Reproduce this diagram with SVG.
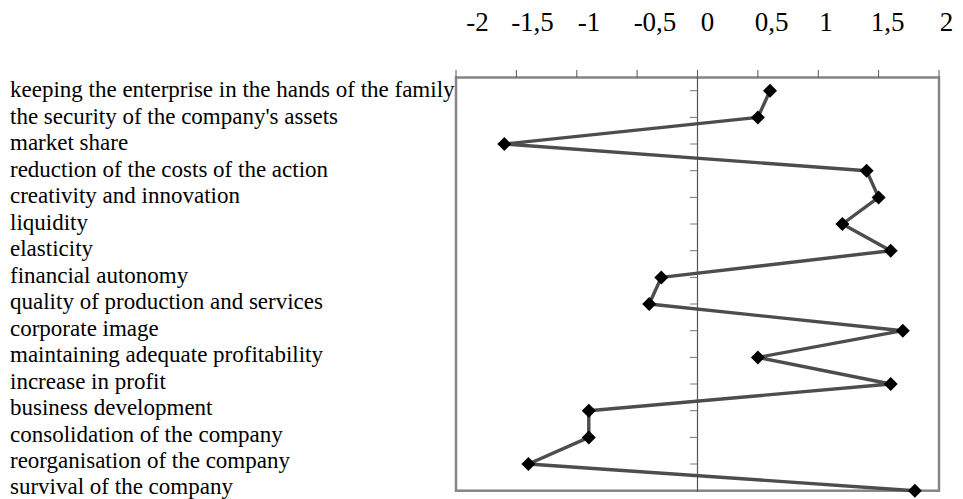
<svg xmlns="http://www.w3.org/2000/svg" width="963" height="499" viewBox="0 0 963 499">
  <style>
    .lbl { font-family: "Liberation Serif", "Times New Roman", serif; font-size: 23px; fill: #000; }
    .num { font-family: "Liberation Serif", "Times New Roman", serif; font-size: 27px; fill: #000; text-anchor: middle; }
    .frame { fill: none; stroke: #858585; stroke-width: 2.5; }
    .tick { stroke: #555; stroke-width: 1; }
    .ytick { stroke: #777; stroke-width: 1; }
    .axis { stroke: #555; stroke-width: 1.2; }
    .series { fill: none; stroke: #4d4d4d; stroke-width: 3.4; stroke-linejoin: round; }
  </style>
  <defs>
    <path id="diamond" d="M0,-7 L7,0 L0,7 L-7,0 Z" fill="#000"/>
  </defs>
  <rect width="963" height="499" fill="#fff"/>

  <!-- value scale across the top -->
  <g id="scale">
    <text class="num" x="477.5" y="31">-2</text>
    <text class="num" x="532.5" y="31">-1,5</text>
    <text class="num" x="589" y="31">-1</text>
    <text class="num" x="655" y="31">-0,5</text>
    <text class="num" x="707.5" y="31">0</text>
    <text class="num" x="771.5" y="31">0,5</text>
    <text class="num" x="826" y="31">1</text>
    <text class="num" x="887.5" y="31">1,5</text>
    <text class="num" x="946.5" y="31">2</text>
  </g>

  <!-- category labels -->
  <g id="labels">
    <text class="lbl" x="10" y="97">keeping the enterprise in the hands of the family</text>
    <text class="lbl" x="10" y="123.5">the security of the company's assets</text>
    <text class="lbl" x="10" y="150">market share</text>
    <text class="lbl" x="10" y="176.5">reduction of the costs of the action</text>
    <text class="lbl" x="10" y="203">creativity and innovation</text>
    <text class="lbl" x="10" y="229.5">liquidity</text>
    <text class="lbl" x="10" y="256">elasticity</text>
    <text class="lbl" x="10" y="282.5">financial autonomy</text>
    <text class="lbl" x="10" y="309">quality of production and services</text>
    <text class="lbl" x="10" y="335.5">corporate image</text>
    <text class="lbl" x="10" y="362">maintaining adequate profitability</text>
    <text class="lbl" x="10" y="388.5">increase in profit</text>
    <text class="lbl" x="10" y="415">business development</text>
    <text class="lbl" x="10" y="441.5">consolidation of the company</text>
    <text class="lbl" x="10" y="468">reorganisation of the company</text>
    <text class="lbl" x="10" y="494">survival of the company</text>
  </g>

  <!-- plot area frame and axes -->
  <g id="plot-area">
    <rect class="frame" x="456" y="77.5" width="483" height="413.2"/>
    <g id="top-ticks">
      <line class="tick" x1="456" y1="70" x2="456" y2="77.5"/>
      <line class="tick" x1="516.4" y1="70" x2="516.4" y2="77.5"/>
      <line class="tick" x1="576.8" y1="70" x2="576.8" y2="77.5"/>
      <line class="tick" x1="637.1" y1="70" x2="637.1" y2="77.5"/>
      <line class="tick" x1="697.5" y1="70" x2="697.5" y2="77.5"/>
      <line class="tick" x1="757.9" y1="70" x2="757.9" y2="77.5"/>
      <line class="tick" x1="818.3" y1="70" x2="818.3" y2="77.5"/>
      <line class="tick" x1="878.6" y1="70" x2="878.6" y2="77.5"/>
      <line class="tick" x1="939" y1="70" x2="939" y2="77.5"/>
    </g>
    <line class="axis" x1="697.5" y1="77.5" x2="697.5" y2="492"/>
    <g id="row-ticks">
      <line class="ytick" x1="690" y1="90.7" x2="697.5" y2="90.7"/>
      <line class="ytick" x1="690" y1="117.4" x2="697.5" y2="117.4"/>
      <line class="ytick" x1="690" y1="144" x2="697.5" y2="144"/>
      <line class="ytick" x1="690" y1="170.7" x2="697.5" y2="170.7"/>
      <line class="ytick" x1="690" y1="197.4" x2="697.5" y2="197.4"/>
      <line class="ytick" x1="690" y1="224" x2="697.5" y2="224"/>
      <line class="ytick" x1="690" y1="250.7" x2="697.5" y2="250.7"/>
      <line class="ytick" x1="690" y1="277.4" x2="697.5" y2="277.4"/>
      <line class="ytick" x1="690" y1="304" x2="697.5" y2="304"/>
      <line class="ytick" x1="690" y1="330.7" x2="697.5" y2="330.7"/>
      <line class="ytick" x1="690" y1="357.4" x2="697.5" y2="357.4"/>
      <line class="ytick" x1="690" y1="384" x2="697.5" y2="384"/>
      <line class="ytick" x1="690" y1="410.7" x2="697.5" y2="410.7"/>
      <line class="ytick" x1="690" y1="437.4" x2="697.5" y2="437.4"/>
      <line class="ytick" x1="690" y1="464" x2="697.5" y2="464"/>
    </g>
  </g>

  <!-- data series -->
  <g id="connectors">
    <polyline class="series" points="770,90.7 757.9,117.4 504.3,144 866.6,170.7 878.6,197.4 842.4,224 890.7,250.7 661.3,277.4 649.2,304 902.8,330.7 757.9,357.4 890.7,384 588.8,410.7 588.8,437.4 528.4,464 914.9,490.7"/>
  </g>
  <g id="markers">
    <g id="p01"><use href="#diamond" x="770" y="90.7"/></g>
    <g id="p02"><use href="#diamond" x="757.9" y="117.4"/></g>
    <g id="p03"><use href="#diamond" x="504.3" y="144"/></g>
    <g id="p04"><use href="#diamond" x="866.6" y="170.7"/></g>
    <g id="p05"><use href="#diamond" x="878.6" y="197.4"/></g>
    <g id="p06"><use href="#diamond" x="842.4" y="224"/></g>
    <g id="p07"><use href="#diamond" x="890.7" y="250.7"/></g>
    <g id="p08"><use href="#diamond" x="661.3" y="277.4"/></g>
    <g id="p09"><use href="#diamond" x="649.2" y="304"/></g>
    <g id="p10"><use href="#diamond" x="902.8" y="330.7"/></g>
    <g id="p11"><use href="#diamond" x="757.9" y="357.4"/></g>
    <g id="p12"><use href="#diamond" x="890.7" y="384"/></g>
    <g id="p13"><use href="#diamond" x="588.8" y="410.7"/></g>
    <g id="p14"><use href="#diamond" x="588.8" y="437.4"/></g>
    <g id="p15"><use href="#diamond" x="528.4" y="464"/></g>
    <g id="p16"><use href="#diamond" x="914.9" y="490.7"/></g>
  </g>
</svg>
